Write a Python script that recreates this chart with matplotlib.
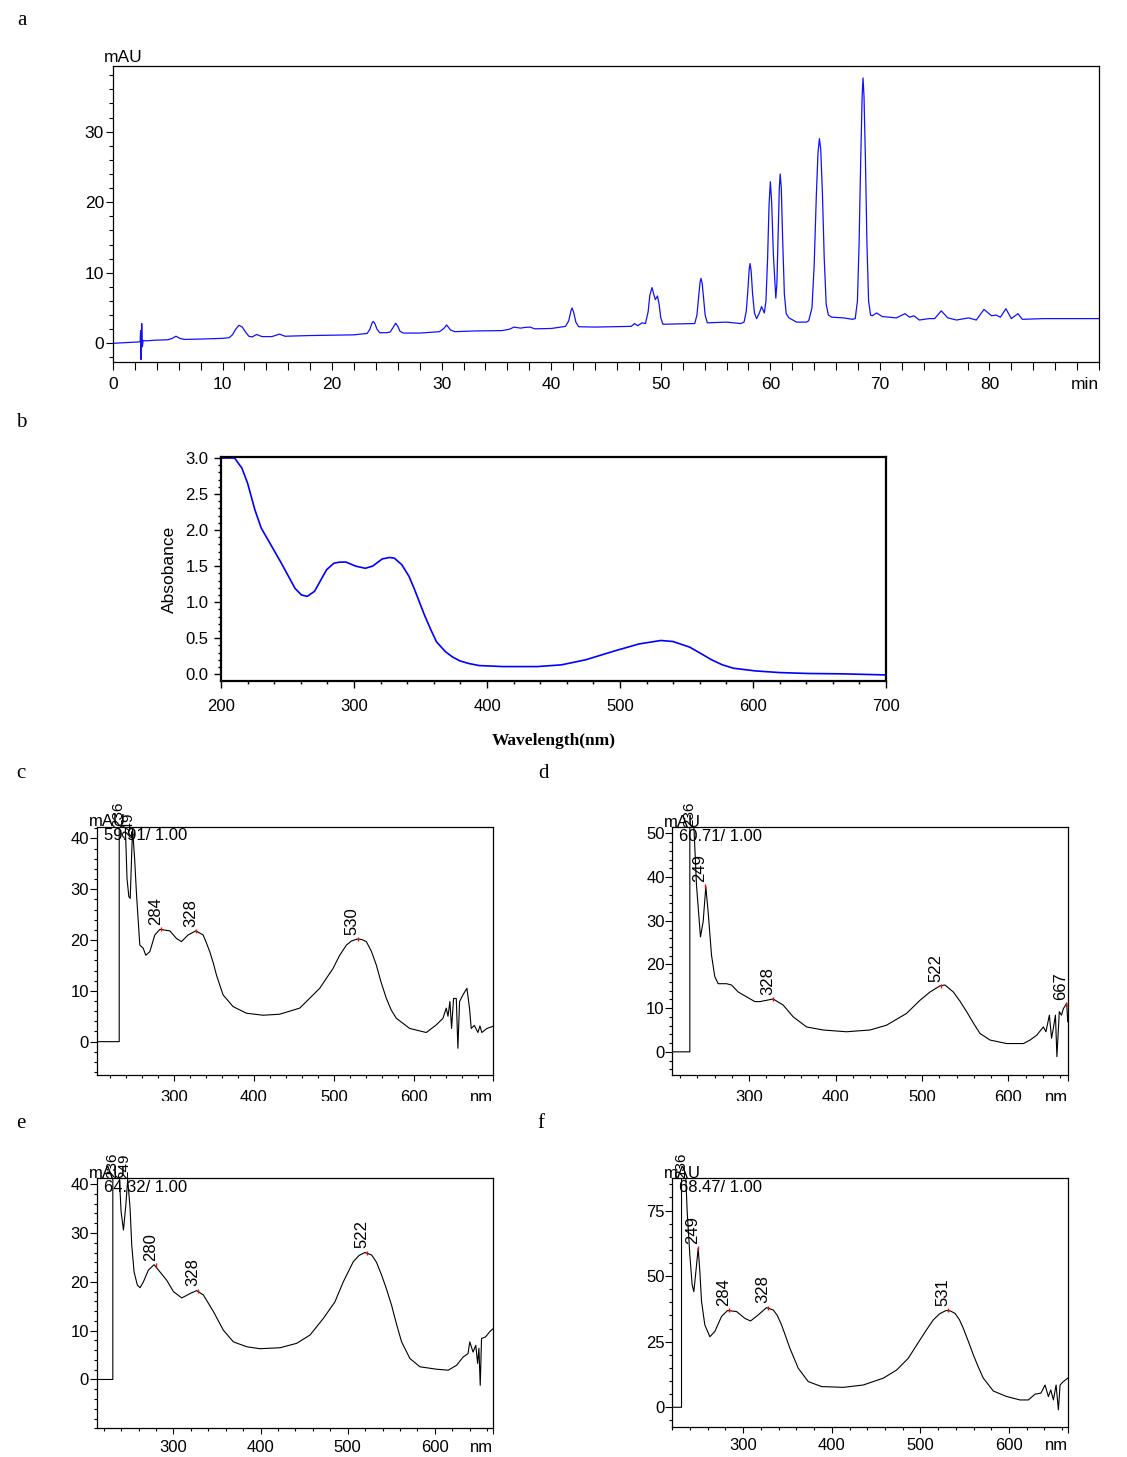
import matplotlib
matplotlib.use("Agg")
import matplotlib.pyplot as plt
from matplotlib.ticker import MultipleLocator, FixedLocator, FixedFormatter
from matplotlib.patches import Rectangle

W, H = 1127, 1457
NARROW = ['Liberation Sans Narrow', 'Liberation Sans', 'DejaVu Sans']
SANS = ['Liberation Sans', 'DejaVu Sans']
SERIF = ['Liberation Serif', 'DejaVu Serif']

# ---------------- data ----------------
# (a) HPLC chromatogram, retention time (min) vs mAU
chrom_time = [0, 2.4, 2.48, 2.52, 2.56, 2.62, 2.68, 2.75, 3.0, 4.0, 5.0, 5.4, 5.75, 6.1, 6.5, 8, 10,
              10.6, 10.9, 11.2, 11.5, 11.8, 12.1, 12.4, 12.7, 13.1, 13.6, 14.5, 15.2, 15.7, 18, 20, 22,
              23.2, 23.45, 23.65, 23.75, 23.9, 24.1, 24.35, 25.0, 25.3, 25.55, 25.8, 26.0, 26.2, 26.5,
              28, 29.8, 30.2, 30.45, 30.8, 31.2, 33, 35.5, 36.2, 36.6, 37.2, 37.6, 38.05, 38.5, 40,
              41.3, 41.6, 41.8, 41.9, 42.05, 42.25, 42.5, 44, 47.3, 47.6, 47.9, 48.3, 48.6,
              48.85, 49.0, 49.2, 49.35, 49.5, 49.7, 49.85, 50.0, 50.2, 53.1,
              53.3, 53.45, 53.58, 53.67, 53.78, 53.9, 54.05, 54.25, 56.0, 57.3,
              57.6, 57.8, 57.95, 58.07, 58.15, 58.25, 58.38, 58.55, 58.75, 59.0, 59.2, 59.45,
              59.6, 59.75, 59.88, 60.0, 60.12, 60.28, 60.5, 60.6, 60.72, 60.82, 60.9, 61.0,
              61.12, 61.28, 61.45, 61.7, 62.4, 63.3,
              63.5, 63.8, 64.0, 64.2, 64.35, 64.48, 64.6, 64.75, 64.92, 65.1, 65.3, 65.6, 66.7,
              67.5, 67.75, 67.95, 68.1, 68.25, 68.38, 68.46, 68.55, 68.68, 68.82, 68.97, 69.15,
              69.3, 69.7, 70.2, 71.5, 72.3, 72.7, 73.1, 73.6, 74.5, 75.0, 75.6, 76.2, 77.0,
              78.1, 78.8, 79.5, 80.2, 80.6, 81.0, 81.5, 82.0, 82.6, 83.0, 85, 90]
chrom_mau = [0.0, 0.2, 0.25, 1.8, -2.3, 2.8, -0.5, 0.4, 0.35, 0.45, 0.5, 0.7, 1.0, 0.7, 0.55, 0.6, 0.7,
             0.8, 1.2, 2.0, 2.55, 2.3, 1.6, 1.0, 0.9, 1.25, 0.95, 0.95, 1.3, 1.0, 1.1, 1.15, 1.2,
             1.4, 2.0, 2.9, 3.1, 2.8, 2.0, 1.5, 1.5, 1.6, 2.2, 2.85, 2.4, 1.7, 1.45,
             1.45, 1.65, 2.1, 2.6, 1.9, 1.65, 1.75, 1.8, 2.0, 2.3, 2.15, 2.25, 2.3, 2.05, 2.1,
             2.4, 3.2, 4.6, 5.0, 4.4, 3.0, 2.35, 2.3, 2.4, 2.8, 2.5, 2.9, 2.8,
             4.5, 6.8, 7.9, 7.0, 6.2, 6.7, 5.5, 3.6, 2.7, 2.8,
             4.0, 6.5, 8.6, 9.2, 8.5, 6.5, 4.0, 2.9, 3.0, 2.8,
             3.0, 4.5, 7.5, 10.5, 11.3, 10.2, 7.0, 4.3, 3.5, 4.3, 5.2, 4.3,
             6.0, 12.0, 19.5, 22.9, 20.0, 12.5, 6.4, 8.5, 16.0, 22.0, 24.0, 22.0,
             15.0, 7.0, 4.2, 3.6, 3.0, 3.0,
             3.2, 5.0, 11.0, 21.0, 27.0, 29.0, 27.5, 21.5, 12.0, 5.5, 4.0, 3.7, 3.6,
             3.4, 3.5, 6.0, 14.0, 26.0, 35.0, 37.6, 35.0, 26.0, 14.0, 6.0, 4.0,
             3.9, 4.3, 3.8, 3.6, 4.2, 3.7, 3.9, 3.3, 3.5, 3.5, 4.6, 3.6, 3.3,
             3.6, 3.3, 4.8, 3.9, 4.0, 3.7, 4.9, 3.5, 4.2, 3.4, 3.5, 3.5]

# (b) UV-Vis absorption spectrum
b_wl = [200, 210.2, 215.7, 220, 225.5, 230.2, 244.8, 255.7, 260.5, 264.8, 270.3, 279.4, 284.9,
        289, 294, 301.2, 308.5, 314, 321.3, 326.7, 330.4, 335.9, 341.3, 345, 348.6, 353, 357.7,
        362, 368.6, 374, 379.6, 386, 394.1, 412.3, 437.8, 456, 474.2, 496.1, 514.3, 530.7,
        539.8, 552.5, 560.5, 568.9, 577, 585.3, 601.7, 619.9, 641.8, 667.3, 700]
b_abs = [3.0, 3.0, 2.86, 2.65, 2.28, 2.03, 1.56, 1.19, 1.10, 1.08, 1.15, 1.45, 1.54,
         1.555, 1.556, 1.50, 1.47, 1.50, 1.60, 1.62, 1.61, 1.52, 1.36, 1.2, 1.03, 0.82, 0.62,
         0.45, 0.315, 0.24, 0.185, 0.15, 0.12, 0.106, 0.106, 0.13, 0.2, 0.324, 0.42, 0.468,
         0.454, 0.375, 0.29, 0.2, 0.13, 0.083, 0.046, 0.023, 0.01, 0.005, -0.01]

# (c) DAD spectrum at 59.91 min
c_wl = [202.8, 231.2, 231.2, 236.0, 238.3, 241.0, 243.3, 245.0, 247.9, 248.7, 250.5, 252.9, 257.0,
        261.2, 264.5, 269.5, 275.8, 282.1, 294.6, 302.9, 309.2, 317.5, 327.1, 336.3, 340.0, 344.6,
        349.0, 353.0, 361.3, 373.8, 390.5, 411.4, 432.2, 457.3, 482.3, 490.0, 499.0, 507.0,
        515.7, 522.0, 529.5, 535.0, 540.7, 547.0, 553.2, 559.0, 565.8, 572.0, 578.3, 595.0,
        615.8, 628.3, 636.7, 640.8, 643.0, 645.4, 647.5, 650.0, 653.4, 655.4, 657.5, 661.7,
        666.7, 670.0, 672.1, 676.0, 680.5, 683.0, 685.4, 691.7, 699.0]
c_mau = [0, 0, 60, 60, 45, 32, 28.5, 28.2, 42, 40.1, 36, 28.9, 19.0,
         18.4, 17.0, 17.7, 21.0, 22.1, 21.8, 20.3, 19.7, 21.0, 21.8, 21.0, 19.6, 17.7,
         15.5, 13.1, 9.2, 6.9, 5.6, 5.2, 5.4, 6.6, 10.5, 12.3, 14.4, 16.9,
         19.0, 19.8, 20.2, 20.1, 19.7, 17.8, 15.1, 11.8, 8.5, 6.2, 4.6, 2.6,
         1.8, 3.3, 4.6, 6.6, 5.0, 7.9, 2.6, 8.5, 8.5, -1.3, 7.9, 9.2,
         10.5, 6.5, 2.6, 3.2, 1.8, 3.1, 1.8, 2.6, 3.0]
c_peaks = [(284, 22.1), (328, 21.8), (530, 20.2)]
c_peaks_top = [(236, 42.3), (249, 40.1)]

# (d) DAD spectrum at 60.71 min
d_wl = [210.8, 231.3, 231.3, 234.0, 235.9, 239.0, 243.6, 246.7, 249.8, 252.5, 256.4, 260.2, 264.1,
        273.7, 279.5, 287.3, 296.9, 306.6, 312.4, 327.8, 339.4, 351.0, 366.4, 385.7, 412.7,
        439.8, 459.0, 482.2, 497.7, 509.3, 520.8, 526.6, 536.3, 544.0, 551.7, 559.5, 567.2,
        578.8, 598.1, 617.4, 625.1, 632.8, 640.5, 643.5, 647.5, 650.0, 652.0, 654.5, 656.2,
        659.0, 661.5, 663.7, 667.6, 668.7]
d_mau = [0, 0, 60, 60, 52, 38.2, 26.3, 29.8, 37.8, 32.0, 22.1, 17.2, 15.6,
         15.6, 15.3, 13.7, 12.6, 11.5, 11.5, 12.1, 10.7, 8.0, 5.7, 5.0, 4.6,
         5.0, 6.1, 8.8, 11.8, 13.7, 15.1, 15.3, 13.7, 11.6, 9.2, 6.6, 4.2,
         2.7, 1.9, 1.9, 2.7, 3.8, 5.7, 4.6, 8.4, 3.1, 5.3, 8.4, -1.1,
         9.2, 8.4, 9.9, 11.1, 6.9]
d_peaks = [(249, 37.9), (328, 12.0), (522, 15.1), (667, 10.9)]
d_peaks_top = [(236, 51.4)]

# (e) DAD spectrum at 64.32 min
e_wl = [212.0, 230.5, 230.5, 236.0, 238.1, 240.0, 242.7, 245.4, 247.6, 250.3, 252.2, 254.9, 258.7,
        261.8, 265.6, 271.3, 277.8, 284.7, 292.4, 300.0, 309.6, 319.1, 326.7, 334.4, 345.9,
        357.3, 368.8, 384.1, 399.4, 422.3, 441.4, 456.7, 472.0, 485.3, 494.9, 506.3, 513.0,
        519.7, 527.4, 533.0, 538.8, 544.5, 550.3, 556.0, 561.8, 571.3, 582.8, 601.9, 615.3,
        624.8, 632.4, 638.0, 640.0, 643.8, 646.9, 649.0, 650.5, 652.0, 653.5, 658.0, 663.0, 666.8]
e_mau = [0, 0, 50, 50, 41.0, 34.3, 30.6, 35.7, 41.0, 35.0, 27.5, 22.0, 19.3,
         18.8, 20.0, 22.4, 23.5, 22.0, 20.3, 18.0, 16.7, 17.6, 18.2, 17.3, 13.9,
         10.1, 7.7, 6.7, 6.3, 6.5, 7.4, 9.1, 12.5, 15.9, 20.0, 24.1, 25.4,
         26.0, 25.5, 24.0, 21.4, 18.5, 15.2, 11.3, 7.7, 4.3, 2.6, 2.1, 1.9,
         2.9, 4.6, 5.3, 7.7, 5.6, 7.0, 3.3, 6.4, -1.2, 8.4, 8.7, 9.8, 10.4]
e_peaks = [(280, 23.5), (328, 18.2), (522, 26.0)]
e_peaks_top = [(236, 41.2), (249, 41.0)]

# (f) DAD spectrum at 68.47 min
f_wl = [219.8, 230.4, 230.4, 235.3, 236.8, 239.8, 242.4, 244.3, 246.6, 249.2, 251.1, 253.0, 256.7,
        262.4, 268.0, 275.5, 282.3, 292.5, 301.9, 308.3, 316.9, 326.3, 333.9, 338.5, 343.3, 348.0,
        352.7, 362.1, 373.4, 388.4, 412.9, 435.5, 458.1, 473.1, 486.3, 499.5, 507.0, 514.5,
        521.5, 528.8, 534.0, 539.0, 544.0, 548.4, 554.0, 559.7, 565.5, 571.0, 582.3, 597.3,
        612.4, 621.8, 629.3, 636.0, 640.6, 644.4, 647.1, 650.1, 653.1, 655.7, 657.6, 661.3, 666.2]
f_mau = [0, 0, 95, 87.0, 74.6, 58.0, 46.7, 44.1, 51.7, 60.6, 51.7, 40.3, 31.4,
         26.9, 28.9, 34.6, 36.9, 36.5, 33.9, 32.9, 35.2, 38.0, 37.1, 35.0, 31.4, 27.0,
         22.5, 14.9, 9.8, 7.9, 7.6, 8.5, 11.1, 14.2, 18.7, 25.7, 29.6, 33.3,
         35.6, 36.9, 36.7, 35.8, 33.4, 30.1, 25.2, 20.0, 15.2, 11.1, 6.2, 4.1,
         2.8, 2.8, 5.0, 5.4, 8.5, 4.1, 6.6, 2.8, 8.5, -1.0, 8.5, 9.8, 11.1]
f_peaks = [(249, 60.6), (284, 37.0), (328, 38.0), (531, 37.0)]
f_peaks_top = [(236, 87.3)]

# ---------------- figure ----------------
fig = plt.figure(figsize=(W / 100, H / 100), dpi=100)


def rect(l, t, r, b):
    return [l / W, 1 - b / H, (r - l) / W, (b - t) / H]


# panel letters
for letter, x, y in [('a', 17, 25), ('b', 16, 427), ('c', 16, 778),
                     ('d', 538, 778), ('e', 16, 1128), ('f', 537, 1128)]:
    fig.text(x / W, 1 - y / H, letter, family=SERIF, fontsize=15, va='baseline', ha='left')

# ---------- panel a ----------
ax = fig.add_axes(rect(113, 66, 1099, 362))
ax.plot(chrom_time, chrom_mau, color='#1010ff', lw=0.9)
ax.set_xlim(0, 90)
ax.set_ylim(-2.65, 39.3)
ax.xaxis.set_major_locator(FixedLocator([0, 10, 20, 30, 40, 50, 60, 70, 80, 90]))
ax.xaxis.set_major_formatter(FixedFormatter(['0', '10', '20', '30', '40', '50', '60', '70', '80', 'min']))
ax.xaxis.set_minor_locator(MultipleLocator(2))
ax.yaxis.set_major_locator(FixedLocator([0, 10, 20, 30]))
ax.yaxis.set_minor_locator(MultipleLocator(2))
ax.tick_params(axis='both', which='both', direction='out', width=0.8, labelsize=12.5)
ax.tick_params(axis='x', which='both', length=5.5, pad=5)
ax.tick_params(axis='y', which='major', length=5, pad=1.5)
ax.tick_params(axis='y', which='minor', length=3)
for lab in ax.get_xticklabels() + ax.get_yticklabels():
    lab.set_family(SANS)
ax.get_xticklabels()[-1].set_ha('right')
for s in ax.spines.values():
    s.set_linewidth(0.9)
ax.text(-0.009, 1.014, 'mAU', transform=ax.transAxes, family=SANS, fontsize=12.5,
        ha='left', va='baseline')

# ---------- panel b ----------
ax = fig.add_axes(rect(221, 457.3, 886, 680.7))
ax.plot(b_wl, b_abs, color='#0000ff', lw=1.2)
ax.set_xlim(200, 700)
ax.set_ylim(-0.09, 3.01)
ax.xaxis.set_major_locator(MultipleLocator(100))
ax.xaxis.set_minor_locator(MultipleLocator(20))
ax.yaxis.set_major_locator(FixedLocator([0, 0.5, 1.0, 1.5, 2.0, 2.5, 3.0]))
ax.yaxis.set_major_formatter(FixedFormatter(['0.0', '0.5', '1.0', '1.5', '2.0', '2.5', '3.0']))
ax.yaxis.set_minor_locator(MultipleLocator(0.1))
ax.tick_params(axis='both', which='major', direction='out', length=5, width=1.0, labelsize=12, pad=4)
ax.tick_params(axis='x', which='major', pad=8)
ax.tick_params(axis='both', which='minor', direction='out', length=2.5, width=1.0)
for lab in ax.get_xticklabels() + ax.get_yticklabels():
    lab.set_family(NARROW)
for s in ax.spines.values():
    s.set_linewidth(1.6)
ax.set_ylabel('Absobance', family=SANS, fontsize=12.5, labelpad=6)
ax.set_xlabel('Wavelength(nm)', family=SERIF, fontsize=12.5, fontweight='bold', labelpad=14)


# ---------- panels c-f ----------
def dad_panel(box, wl, mau, xlim, ylim, ymaj, ymin_step, rt_text, peaks, top_peaks, xpad):
    ax = fig.add_axes(rect(*box))
    ax.plot(wl, mau, color='black', lw=0.8)
    ax.set_xlim(*xlim)
    ax.set_ylim(*ylim)
    xt = [300, 400, 500, 600, xlim[1]]
    ax.xaxis.set_major_locator(FixedLocator(xt))
    ax.xaxis.set_major_formatter(FixedFormatter(['300', '400', '500', '600', 'nm']))
    ax.xaxis.set_minor_locator(MultipleLocator(20))
    ax.yaxis.set_major_locator(FixedLocator(ymaj))
    ax.yaxis.set_major_formatter(FixedFormatter([str(v) for v in ymaj]))
    ax.yaxis.set_minor_locator(MultipleLocator(ymin_step))
    ax.tick_params(axis='both', which='both', direction='out', width=0.8, labelsize=12)
    ax.tick_params(axis='x', which='major', length=4.5, pad=xpad)
    ax.tick_params(axis='x', which='minor', length=2.5)
    ax.tick_params(axis='y', which='major', length=5, pad=0.5)
    ax.tick_params(axis='y', which='minor', length=2.5)
    for lab in ax.get_xticklabels() + ax.get_yticklabels():
        lab.set_family(NARROW)
    ax.get_xticklabels()[-1].set_ha('right')
    for s in ax.spines.values():
        s.set_linewidth(0.9)
    ax.text(-0.02, 1.003, 'mAU', transform=ax.transAxes, family=NARROW, fontsize=12,
            ha='left', va='baseline')
    ax.text(0.018, 0.995, rt_text, transform=ax.transAxes, family=NARROW, fontsize=12,
            ha='left', va='top')
    px = [p[0] for p in peaks]
    py = [p[1] for p in peaks]
    ax.plot(px, py, linestyle='none', marker='|', color='red', ms=3, mew=1.0)
    for x, y in peaks:
        ax.annotate(str(x), xy=(x, y), xytext=(1.5, 3), textcoords='offset points',
                    rotation=90, ha='right', va='bottom', family=NARROW, fontsize=12)
    for x, y in top_peaks:
        ax.annotate(str(x), xy=(x, y), xytext=(1.5, 0), textcoords='offset points',
                    rotation=90, ha='right', va='bottom', family=NARROW, fontsize=11,
                    annotation_clip=False)
    return ax


dad_panel((96.7, 826.7, 492.7, 1075), c_wl, c_mau, (203, 699), (-6.56, 42.3),
          [0, 10, 20, 30, 40], 2, '59.91/ 1.00', c_peaks, c_peaks_top, 6.5)
dad_panel((672.3, 827.3, 1067.7, 1075), d_wl, d_mau, (211, 668.7), (-5.3, 51.4),
          [0, 10, 20, 30, 40, 50], 2, '60.71/ 1.00', d_peaks, d_peaks_top, 6.5)
dad_panel((96.7, 1178.3, 493.3, 1428.3), e_wl, e_mau, (212, 667), (-10.0, 41.2),
          [0, 10, 20, 30, 40], 2, '64.32/ 1.00', e_peaks, e_peaks_top, 3.7)
dad_panel((672.3, 1178.3, 1067.7, 1426.7), f_wl, f_mau, (220, 666.2), (-7.4, 87.3),
          [0, 25, 50, 75], 5, '68.47/ 1.00', f_peaks, f_peaks_top, 3.7)

# the source figure crops the lower part of the spectra tick labels
for (l, t, r, b) in [(60, 1101, 1110, 1112), (60, 1453, 1110, 1457)]:
    fig.patches.append(Rectangle((l / W, 1 - b / H), (r - l) / W, (b - t) / H,
                                 transform=fig.transFigure, facecolor='white',
                                 edgecolor='none', zorder=10))

fig.savefig('out.png', dpi=100)
